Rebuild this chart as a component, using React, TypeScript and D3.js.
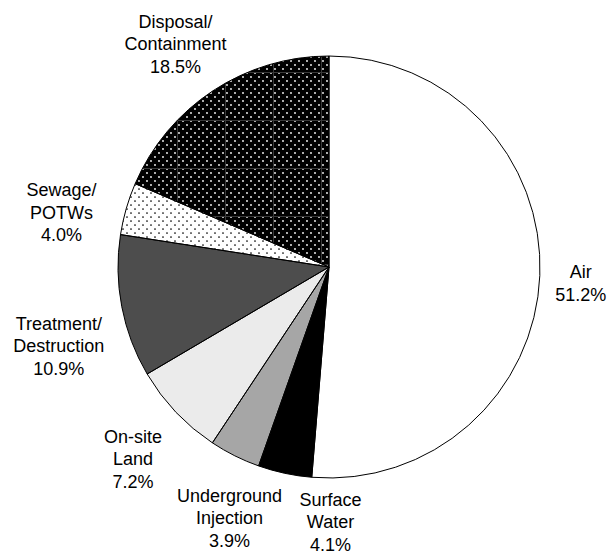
import React, { useRef, useEffect } from "react";
import * as d3 from "d3";

// slices, clockwise from 12 o'clock
const categories = [
  "Air",
  "Surface Water",
  "Underground Injection",
  "On-site Land",
  "Treatment/Destruction",
  "Sewage/POTWs",
  "Disposal/Containment",
];
const values = [51.2, 4.1, 3.9, 7.2, 10.9, 4.0, 18.5];
const labelLines = [
  ["Air"],
  ["Surface", "Water"],
  ["Underground", "Injection"],
  ["On-site", "Land"],
  ["Treatment/", "Destruction"],
  ["Sewage/", "POTWs"],
  ["Disposal/", "Containment"],
];

// styling / layout
const fills = [
  "#ffffff",
  "#000000",
  "#a6a6a6",
  "#ebebeb",
  "#4d4d4d",
  "url(#dotsOnWhite)",
  "url(#dotsOnBlack)",
];
// small nudges off the label arc so labels don't collide
const labelNudge: [number, number][] = [
  [-18, 5],
  [58, -9],
  [21, 9],
  [0, 6],
  [-5, 28],
  [-8, 20],
  [-5, 2],
];

const W = 608;
const H = 556;

const App: React.FC = () => {
  const ref = useRef<SVGSVGElement>(null);

  useEffect(() => {
    if (!ref.current) return;
    const svg = d3.select(ref.current);
    svg.selectAll("*").remove();

    const cx = 329;
    const cy = 267;
    const radius = 211;
    const labelRadius = 270;
    const lineHeight = 22.5;

    const defs = svg.append("defs");

    // white dots on black, for Disposal
    const pb = defs
      .append("pattern")
      .attr("id", "dotsOnBlack")
      .attr("patternUnits", "userSpaceOnUse")
      .attr("width", 8)
      .attr("height", 8);
    pb.append("rect").attr("width", 8).attr("height", 8).attr("fill", "#000");
    pb.append("circle").attr("cx", 2).attr("cy", 2).attr("r", 0.9).attr("fill", "#fff");
    pb.append("circle").attr("cx", 6).attr("cy", 6).attr("r", 0.9).attr("fill", "#fff");

    // faint tile seams seen in the dotted black fill
    const pg = defs
      .append("pattern")
      .attr("id", "seams")
      .attr("patternUnits", "userSpaceOnUse")
      .attr("x", 40)
      .attr("y", 45)
      .attr("width", 48)
      .attr("height", 48);
    pg.append("path")
      .attr("d", "M0.5,0V48M0,0.5H48")
      .attr("stroke", "#3a3a3a")
      .attr("stroke-width", 1)
      .attr("fill", "none");

    // black dots on white, for Sewage
    const pw = defs
      .append("pattern")
      .attr("id", "dotsOnWhite")
      .attr("patternUnits", "userSpaceOnUse")
      .attr("width", 8)
      .attr("height", 8);
    pw.append("rect").attr("width", 8).attr("height", 8).attr("fill", "#fff");
    pw.append("circle").attr("cx", 2).attr("cy", 2).attr("r", 0.85).attr("fill", "#000");
    pw.append("circle").attr("cx", 6).attr("cy", 6).attr("r", 0.85).attr("fill", "#000");

    const pie = d3
      .pie<number>()
      .sort(null)
      .value((d) => d);
    const arcs = pie(values);

    const arc = d3.arc<d3.PieArcDatum<number>>().innerRadius(0).outerRadius(radius);
    const labelArc = d3
      .arc<d3.PieArcDatum<number>>()
      .innerRadius(labelRadius)
      .outerRadius(labelRadius);

    const g = svg.append("g").attr("transform", `translate(${cx},${cy})`);

    g.selectAll("path.slice")
      .data(arcs)
      .join("path")
      .attr("class", "slice")
      .attr("d", arc)
      .attr("fill", (_, i) => fills[i]);

    // seams overlay on the disposal slice
    g.append("path").datum(arcs[6]).attr("d", arc).attr("fill", "url(#seams)");

    g.selectAll("path.edge")
      .data(arcs)
      .join("path")
      .attr("class", "edge")
      .attr("d", arc)
      .attr("fill", "none")
      .attr("stroke", "#000")
      .attr("stroke-width", 1)
      .attr("stroke-linejoin", "round");

    const labels = g
      .selectAll("text.label")
      .data(arcs)
      .join("text")
      .attr("class", "label")
      .attr("text-anchor", "middle")
      .attr("font-family", "'Liberation Sans', Arial, sans-serif")
      .attr("font-size", 18)
      .attr("fill", "#000");

    labels.each(function (d, i) {
      const [lx, ly] = labelArc.centroid(d);
      const x = lx + labelNudge[i][0];
      const y = ly + labelNudge[i][1];
      const lines = [...labelLines[i], `${values[i].toFixed(1)}%`];
      const t = d3.select(this);
      lines.forEach((line, j) => {
        t.append("tspan")
          .attr("x", x)
          .attr("y", y + (j - (lines.length - 1) / 2) * lineHeight)
          .attr("dy", "0.36em")
          .text(line);
      });
    });
  }, []);

  return (
    <svg
      ref={ref}
      width={W}
      height={H}
      style={{ position: "absolute", left: 0, top: 0, background: "#fff" }}
    ></svg>
  );
};

export default App;
